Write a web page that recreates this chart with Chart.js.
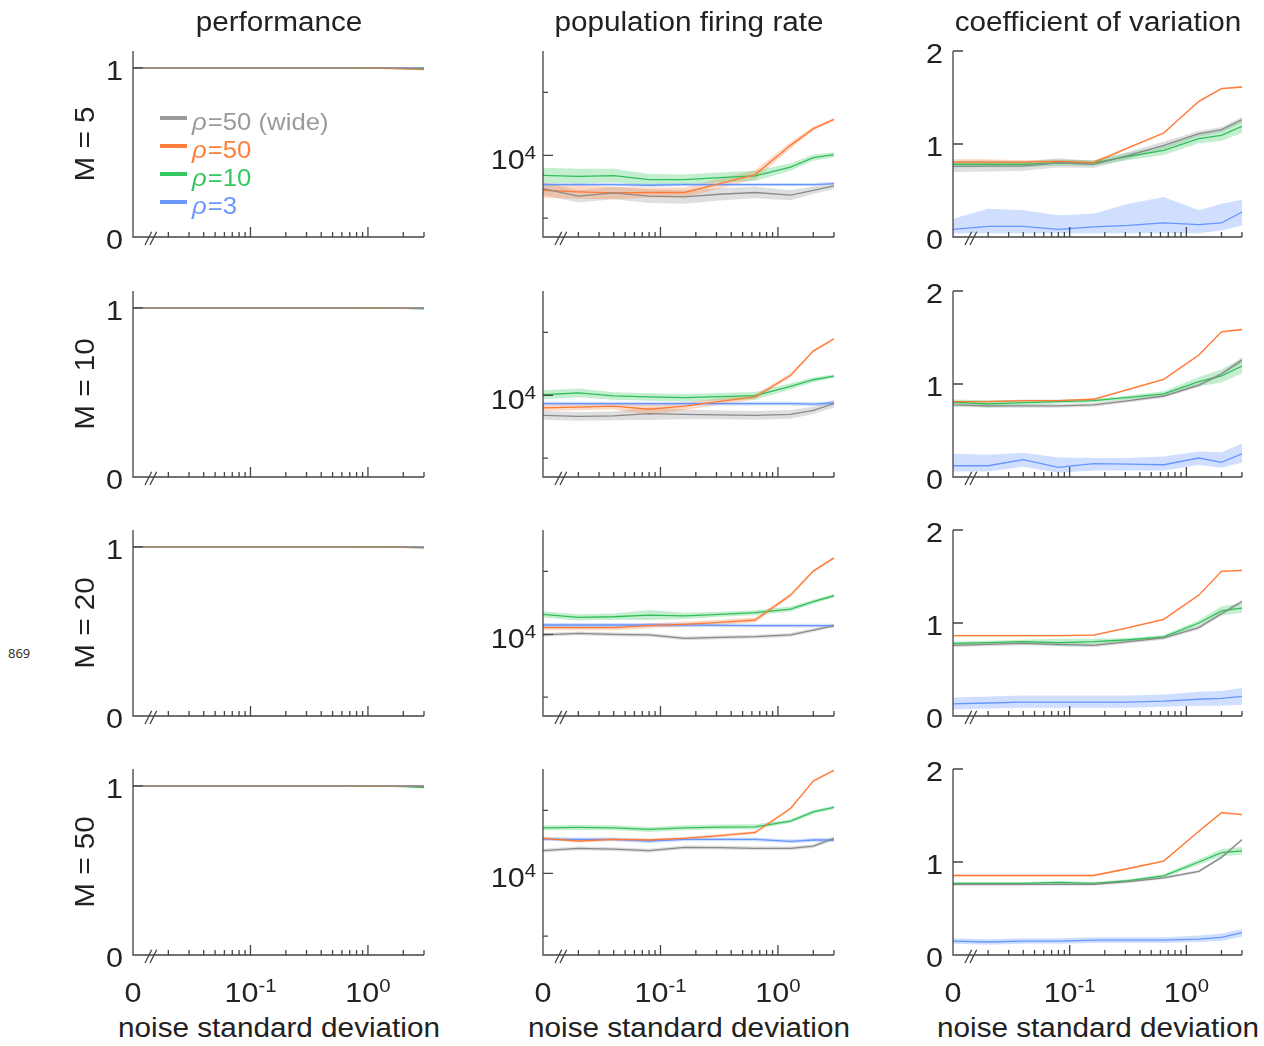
<!DOCTYPE html>
<html>
<head>
<meta charset="utf-8">
<script src="https://cdn.jsdelivr.net/npm/chart.js@4.4.1/dist/chart.umd.min.js"></script>
<style>
  body { margin: 0; background: #fff; width: 1264px; height: 1046px; position: relative; overflow: hidden;
         font-family: "Liberation Sans", Arial, Helvetica, sans-serif; color: #222; }
  canvas { position: absolute; }
  .txt { position: absolute; white-space: nowrap; font-size: 27px; line-height: 27px; }
  .note { position: absolute; font-family: "Noto Sans", "Open Sans", sans-serif; font-size: 13px; color: #333; }
</style>
</head>
<body>
<div class="note" style="left:8px; top:644px;">869</div>
<script>
// noise levels (0 is drawn at the left end of the broken log axis)
const noise = [0, 0.02, 0.04, 0.08, 0.16, 0.32, 0.64, 1.28, 2, 3];
const xZero = 0.01;
const xMax = 3;
const xTicks = [0.02, 0.03, 0.04, 0.05, 0.06, 0.07, 0.08, 0.09, 0.1, 0.2, 0.3, 0.4, 0.5, 0.6, 0.7, 0.8, 0.9, 1, 2, 3];
const xMajor = [0.1, 1];
const xLabelValues = [xZero, 0.1, 1];
const xLabels = ['0', '10^-1', '10^0'];

const mValues = [5, 10, 20, 50];
const colTitles = ['performance', 'population firing rate', 'coefficient of variation'];
const xTitle = 'noise standard deviation';
const seriesKeys = ['wide', 'r50', 'r10', 'r3'];
const legendLabels = ['ρ=50 (wide)', 'ρ=50', 'ρ=10', 'ρ=3'];

// performance, rows M = 5, 10, 20, 50
const perfWide = [
  [1, 1, 1, 1, 1, 1, 1, 1, 0.999, 0.998],
  [1, 1, 1, 1, 1, 1, 1, 1, 0.999, 0.998],
  [1, 1, 1, 1, 1, 1, 1, 1, 0.999, 0.997],
  [1, 1, 1, 1, 1, 1, 1, 1, 0.999, 0.998]
];
const perf50 = [
  [1, 1, 1, 1, 1, 1, 1, 0.998, 0.995, 0.993],
  [1, 1, 1, 1, 1, 1, 1, 0.999, 0.998, 0.997],
  [1, 1, 1, 1, 1, 1, 1, 0.999, 0.998, 0.996],
  [1, 1, 1, 1, 1, 1, 1, 0.999, 0.999, 0.999]
];
const perf10 = [
  [1, 1, 1, 1, 1, 1, 1, 0.999, 0.996, 0.99],
  [1, 1, 1, 1, 1, 1, 1, 0.999, 0.997, 0.994],
  [1, 1, 1, 1, 1, 1, 1, 0.999, 0.998, 0.995],
  [1, 1, 1, 1, 1, 1, 1, 0.999, 0.996, 0.99]
];
const perf3 = [
  [1, 1, 1, 1, 1, 1, 1, 1, 1, 1],
  [1, 1, 1, 1, 1, 1, 1, 1, 1, 1],
  [1, 1, 1, 1, 1, 1, 1, 1, 1, 1],
  [1, 1, 1, 1, 1, 1, 1, 1, 1, 1]
];

// population firing rate
const rateWide = [
  [5430, 4730, 5020, 4730, 4670, 4900, 5060, 4820, 5270, 5710],
  [6930, 6810, 6860, 7140, 7060, 6980, 6930, 7060, 7600, 8590],
  [9890, 10190, 10000, 9890, 9290, 9460, 9570, 9890, 10810, 11720],
  [15140, 15780, 15600, 15140, 16070, 16000, 15780, 15780, 16480, 18970]
];
const rate50 = [
  [5270, 5120, 5020, 5060, 5060, 5960, 7030, 12000, 16300, 19300],
  [7930, 8040, 8190, 7750, 8190, 8950, 9710, 14420, 22490, 28180],
  [11300, 11300, 11300, 11720, 12000, 12450, 13000, 20510, 31840, 40550],
  [18970, 18070, 18620, 18410, 18970, 19910, 21130, 32810, 54330, 66070]
];
const rate10 = [
  [6930, 6810, 6900, 6410, 6410, 6650, 6860, 8070, 9570, 10120],
  [10100, 10450, 9890, 9710, 9570, 9750, 9930, 11780, 13300, 14220],
  [14420, 13650, 13800, 14220, 14000, 14420, 14860, 15890, 18160, 20280],
  [23010, 23170, 23010, 22340, 23010, 23330, 23440, 26000, 30830, 33420]
];
const rate3 = [
  [5850, 5850, 5850, 5780, 5850, 5850, 5850, 5850, 5850, 5960],
  [8590, 8590, 8590, 8590, 8590, 8590, 8590, 8590, 8520, 8690],
  [11860, 11860, 11860, 11860, 11860, 11780, 11720, 11720, 11720, 11720],
  [18710, 18620, 18620, 18070, 18620, 18620, 18620, 17950, 18410, 18410]
];
// shaded spread of the firing rate, in decades (log10 units)
const rateWideSpread = [
  [0.05, 0.05, 0.05, 0.055, 0.055, 0.05, 0.045, 0.04, 0.03, 0.025],
  [0.035, 0.035, 0.035, 0.05, 0.04, 0.035, 0.035, 0.035, 0.03, 0.03],
  [0.015, 0.015, 0.015, 0.015, 0.015, 0.015, 0.015, 0.015, 0.015, 0.015],
  [0.015, 0.015, 0.015, 0.015, 0.015, 0.015, 0.015, 0.015, 0.015, 0.015]
];
const rate50Spread = [
  [0.06, 0.055, 0.05, 0.04, 0.04, 0.04, 0.035, 0.025, 0.015, 0.01],
  [0.025, 0.025, 0.025, 0.045, 0.03, 0.025, 0.02, 0.015, 0.01, 0.01],
  [0.02, 0.02, 0.02, 0.02, 0.02, 0.02, 0.02, 0.015, 0.01, 0.01],
  [0.012, 0.012, 0.012, 0.012, 0.012, 0.012, 0.012, 0.01, 0.01, 0.01]
];
const rate10Spread = [
  [0.06, 0.06, 0.055, 0.045, 0.04, 0.04, 0.04, 0.03, 0.025, 0.02],
  [0.035, 0.035, 0.03, 0.03, 0.03, 0.03, 0.03, 0.025, 0.02, 0.015],
  [0.025, 0.025, 0.025, 0.04, 0.025, 0.02, 0.02, 0.02, 0.015, 0.015],
  [0.02, 0.02, 0.02, 0.02, 0.02, 0.02, 0.02, 0.015, 0.015, 0.015]
];
const rate3Spread = [
  [0.012, 0.012, 0.012, 0.012, 0.012, 0.012, 0.012, 0.012, 0.012, 0.012],
  [0.015, 0.015, 0.015, 0.015, 0.015, 0.015, 0.015, 0.015, 0.015, 0.015],
  [0.015, 0.015, 0.015, 0.015, 0.015, 0.015, 0.015, 0.015, 0.015, 0.015],
  [0.015, 0.015, 0.015, 0.015, 0.015, 0.015, 0.015, 0.015, 0.015, 0.015]
];

// coefficient of variation
const cvWide = [
  [0.76, 0.763, 0.763, 0.796, 0.781, 0.878, 0.986, 1.111, 1.154, 1.262],
  [0.775, 0.764, 0.764, 0.764, 0.775, 0.821, 0.871, 0.989, 1.107, 1.257],
  [0.76, 0.77, 0.78, 0.77, 0.76, 0.8, 0.84, 0.95, 1.1, 1.23],
  [0.76, 0.76, 0.76, 0.76, 0.76, 0.79, 0.83, 0.9, 1.05, 1.24]
];
const cv50 = [
  [0.806, 0.806, 0.806, 0.814, 0.799, 0.96, 1.118, 1.459, 1.595, 1.613],
  [0.811, 0.811, 0.821, 0.821, 0.836, 0.943, 1.05, 1.311, 1.561, 1.586],
  [0.865, 0.865, 0.865, 0.865, 0.87, 0.95, 1.04, 1.3, 1.555, 1.565],
  [0.855, 0.855, 0.855, 0.855, 0.855, 0.93, 1.01, 1.33, 1.53, 1.51]
];
const cv10 = [
  [0.781, 0.781, 0.781, 0.796, 0.796, 0.867, 0.932, 1.057, 1.093, 1.19],
  [0.804, 0.786, 0.8, 0.811, 0.821, 0.857, 0.893, 1.025, 1.086, 1.193],
  [0.78, 0.79, 0.8, 0.79, 0.8, 0.82, 0.85, 1.0, 1.13, 1.16],
  [0.77, 0.77, 0.77, 0.78, 0.77, 0.8, 0.85, 1.0, 1.1, 1.12]
];
const cv3 = [
  [0.082, 0.115, 0.115, 0.082, 0.108, 0.125, 0.151, 0.133, 0.151, 0.269],
  [0.121, 0.121, 0.186, 0.104, 0.143, 0.139, 0.132, 0.204, 0.157, 0.25],
  [0.13, 0.14, 0.15, 0.15, 0.15, 0.15, 0.16, 0.18, 0.19, 0.21],
  [0.15, 0.14, 0.15, 0.15, 0.16, 0.16, 0.16, 0.17, 0.19, 0.24]
];
const cvWideErr = [
  [0.06, 0.06, 0.05, 0.05, 0.04, 0.04, 0.04, 0.03, 0.03, 0.03],
  [0.02, 0.02, 0.02, 0.02, 0.02, 0.02, 0.02, 0.02, 0.02, 0.03],
  [0.02, 0.02, 0.02, 0.02, 0.02, 0.02, 0.02, 0.02, 0.02, 0.02],
  [0.015, 0.015, 0.015, 0.015, 0.015, 0.015, 0.015, 0.015, 0.015, 0.015]
];
const cv50Err = [
  [0.03, 0.03, 0.02, 0.02, 0.02, 0.01, 0.01, 0.01, 0.01, 0.01],
  [0.01, 0.01, 0.01, 0.01, 0.01, 0.01, 0.01, 0.01, 0.01, 0.01],
  [0.01, 0.01, 0.01, 0.01, 0.01, 0.01, 0.01, 0.01, 0.01, 0.01],
  [0.01, 0.01, 0.01, 0.01, 0.01, 0.01, 0.01, 0.01, 0.01, 0.01]
];
const cv10Err = [
  [0.03, 0.03, 0.03, 0.03, 0.03, 0.04, 0.05, 0.05, 0.06, 0.07],
  [0.03, 0.04, 0.03, 0.02, 0.02, 0.02, 0.03, 0.05, 0.07, 0.08],
  [0.02, 0.02, 0.02, 0.04, 0.03, 0.02, 0.02, 0.03, 0.05, 0.05],
  [0.015, 0.015, 0.015, 0.015, 0.015, 0.015, 0.02, 0.03, 0.04, 0.04]
];
// rho=3 band is skewed (CV stays above 0), so its edges are kept as they are
const cv3Lo = [
  [0.04, 0.04, 0.04, 0.04, 0.04, 0.04, 0.04, 0.04, 0.07, 0.125],
  [0.06, 0.06, 0.11, 0.045, 0.07, 0.07, 0.07, 0.13, 0.1, 0.157],
  [0.07, 0.08, 0.09, 0.09, 0.09, 0.09, 0.1, 0.11, 0.11, 0.12],
  [0.12, 0.11, 0.12, 0.12, 0.13, 0.13, 0.13, 0.14, 0.15, 0.2]
];
const cv3Hi = [
  [0.197, 0.305, 0.287, 0.233, 0.251, 0.358, 0.43, 0.287, 0.358, 0.401],
  [0.25, 0.24, 0.26, 0.21, 0.205, 0.205, 0.22, 0.275, 0.265, 0.357],
  [0.2, 0.21, 0.22, 0.22, 0.22, 0.22, 0.23, 0.26, 0.27, 0.3],
  [0.18, 0.17, 0.18, 0.18, 0.19, 0.19, 0.19, 0.21, 0.23, 0.28]
];

const perfTicks = [0, 1], perfTickLabels = ['0', '1'];
const rateTicks = [Math.pow(10, 3.5), 1e4, Math.pow(10, 4.5)], rateTickLabels = ['', '10^4', ''];
const cvTicks = [0, 1, 2], cvTickLabels = ['0', '1', '2'];

const lineColors = { wide: '#8a8a8a', r50: '#ff7a36', r10: '#2fbf58', r3: '#6795ff' };
const bandColors = { wide: 'rgba(150,150,150,0.3)', r50: 'rgba(255,130,60,0.3)', r10: 'rgba(60,200,100,0.3)', r3: 'rgba(100,150,255,0.3)' };
const legendColors = { wide: '#9a9a9a', r50: '#ff7f3a', r10: '#33c862', r3: '#6a98ff' };
const axisColor = '#444';
const textColor = '#222';
const FONT = '"Liberation Sans", Arial, Helvetica, sans-serif';
const SX = 1.1;   // the lettering in the figure is drawn a little wide

const colLeft = [133, 543, 953];
const colWidth = [291, 291, 289];
const rowTop = [51, 291, 530, 769];
const plotH = 186;
const PAD = { l: 70, t: 22, r: 22, b: 58 };

function pts(arr) {
  return arr.map((v, i) => ({ x: noise[i] === 0 ? xZero : noise[i], y: v }));
}

function wideText(ctx, text, x, y, sx) {
  ctx.save();
  ctx.translate(x, y);
  ctx.scale(sx, 1);
  ctx.fillText(text, 0, 0);
  ctx.restore();
}

function drawLabel(ctx, text, x, y, align) {
  const sx = 1.13;
  const parts = text.split('^');
  ctx.font = '27px ' + FONT;
  const wb = ctx.measureText(parts[0]).width * sx;
  let we = 0;
  if (parts.length > 1) { ctx.font = '18px ' + FONT; we = ctx.measureText(parts[1]).width * sx; }
  const total = wb + we;
  const x0 = align === 'right' ? x - total : x - total / 2;
  ctx.textAlign = 'left';
  ctx.textBaseline = 'alphabetic';
  ctx.font = '27px ' + FONT;
  wideText(ctx, parts[0], x0, y, sx);
  if (parts.length > 1) { ctx.font = '18px ' + FONT; wideText(ctx, parts[1], x0 + wb, y - 10, sx); }
}

const axesPlugin = {
  id: 'axes',
  afterDatasetsDraw(chart, args, opts) {
    const { ctx, chartArea: a } = chart;
    const xs = chart.scales.x, ys = chart.scales.y;
    ctx.save();
    ctx.strokeStyle = axisColor;
    ctx.lineWidth = 1.3;
    ctx.beginPath();
    ctx.moveTo(a.left, a.top);
    ctx.lineTo(a.left, a.bottom);
    ctx.lineTo(a.right, a.bottom);
    xTicks.forEach(v => {
      const px = xs.getPixelForValue(v);
      ctx.moveTo(px, a.bottom);
      ctx.lineTo(px, a.bottom - (xMajor.includes(v) ? 10 : 5));
    });
    opts.yTicks.forEach((v, i) => {
      const py = ys.getPixelForValue(v);
      ctx.moveTo(a.left, py);
      ctx.lineTo(a.left + (opts.yLabels[i] ? 10 : 5), py);
    });
    ctx.stroke();
    // axis break marks
    ctx.beginPath();
    [12, 17].forEach(d => {
      ctx.moveTo(a.left + d, a.bottom + 8);
      ctx.lineTo(a.left + d + 6.7, a.bottom - 5.3);
    });
    ctx.stroke();

    ctx.fillStyle = textColor;
    opts.yTicks.forEach((v, i) => {
      const lab = opts.yLabels[i];
      if (!lab) return;
      const py = ys.getPixelForValue(v);
      if (lab.includes('^')) drawLabel(ctx, lab, a.left - 7, py + 14, 'right');
      else drawLabel(ctx, lab, a.left - 10, py + 12, 'right');
    });
    if (opts.xLabels) {
      xLabelValues.forEach((v, i) => drawLabel(ctx, xLabels[i], xs.getPixelForValue(v), a.bottom + 47, 'center'));
    }
    if (opts.legend) {
      const lsx = 1.05;
      seriesKeys.forEach((k, i) => {
        const y = a.top + 67 + i * 28;
        ctx.strokeStyle = legendColors[k];
        ctx.lineWidth = 4;
        ctx.beginPath();
        ctx.moveTo(a.left + 27, y);
        ctx.lineTo(a.left + 54, y);
        ctx.stroke();
        ctx.fillStyle = legendColors[k];
        ctx.textAlign = 'left';
        ctx.textBaseline = 'alphabetic';
        const lab = legendLabels[i];
        ctx.font = 'italic 24.5px ' + FONT;
        wideText(ctx, lab[0], a.left + 59, y + 11.5, lsx);
        const w = ctx.measureText(lab[0]).width * lsx;
        ctx.font = '24.5px ' + FONT;
        wideText(ctx, lab.slice(1), a.left + 59 + w + 1, y + 11.5, lsx);
      });
    }
    ctx.restore();
  }
};

const columns = [
  {
    yScale: { type: 'linear', min: 0, max: 1.1 },
    ticks: perfTicks, labels: perfTickLabels,
    data: { wide: perfWide, r50: perf50, r10: perf10, r3: perf3 },
    band: null
  },
  {
    yScale: { type: 'logarithmic', min: Math.pow(10, 3.35), max: Math.pow(10, 4.83) },
    ticks: rateTicks, labels: rateTickLabels,
    data: { wide: rateWide, r50: rate50, r10: rate10, r3: rate3 },
    band: (row, k, mean) => {
      const sp = { wide: rateWideSpread, r50: rate50Spread, r10: rate10Spread, r3: rate3Spread }[k][row];
      return [mean.map((v, i) => v / Math.pow(10, sp[i])), mean.map((v, i) => v * Math.pow(10, sp[i]))];
    }
  },
  {
    yScale: { type: 'linear', min: 0, max: 2 },
    ticks: cvTicks, labels: cvTickLabels,
    data: { wide: cvWide, r50: cv50, r10: cv10, r3: cv3 },
    band: (row, k, mean) => {
      if (k === 'r3') return [cv3Lo[row], cv3Hi[row]];
      const e = { wide: cvWideErr, r50: cv50Err, r10: cv10Err }[k][row];
      return [mean.map((v, i) => v - e[i]), mean.map((v, i) => v + e[i])];
    }
  }
];

function makePanel(c, r) {
  const col = columns[c];
  const w = colWidth[c];
  const canvas = document.createElement('canvas');
  canvas.width = PAD.l + w + PAD.r;
  canvas.height = PAD.t + plotH + PAD.b;
  canvas.style.left = (colLeft[c] - PAD.l) + 'px';
  canvas.style.top = (rowTop[r] - PAD.t) + 'px';
  document.body.appendChild(canvas);

  const datasets = [];
  seriesKeys.forEach((k, idx) => {
    const mean = col.data[k][r];
    if (col.band) {
      const [lo, hi] = col.band(r, k, mean);
      datasets.push({ data: pts(hi), fill: '+1', backgroundColor: bandColors[k], borderColor: 'rgba(0,0,0,0)',
                      borderWidth: 0, pointRadius: 0, order: 20 - idx });
      datasets.push({ data: pts(lo), fill: false, borderColor: 'rgba(0,0,0,0)',
                      borderWidth: 0, pointRadius: 0, order: 20 - idx });
    }
  });
  seriesKeys.forEach((k, idx) => {
    datasets.push({ data: pts(col.data[k][r]), fill: false, borderColor: lineColors[k],
                    borderWidth: 1.3, pointRadius: 0, order: idx + 1 });
  });

  new Chart(canvas, {
    type: 'line',
    data: { datasets },
    options: {
      responsive: false,
      animation: false,
      devicePixelRatio: 1,
      events: [],
      layout: { padding: { left: PAD.l, top: PAD.t, right: PAD.r, bottom: PAD.b } },
      elements: { line: { tension: 0 }, point: { radius: 0 } },
      scales: {
        x: { type: 'logarithmic', min: xZero, max: xMax, display: false },
        y: Object.assign({ display: false }, col.yScale)
      },
      plugins: {
        legend: { display: false },
        tooltip: { enabled: false },
        axes: { yTicks: col.ticks, yLabels: col.labels, xLabels: r === mValues.length - 1, legend: c === 0 && r === 0 }
      }
    },
    plugins: [axesPlugin]
  });
}

for (let r = 0; r < mValues.length; r++) {
  for (let c = 0; c < 3; c++) makePanel(c, r);
}

// text around the grid (27px Liberation Sans, baseline sits 22.9px below the box top)
function addText(text, cx, baseline) {
  const d = document.createElement('div');
  d.className = 'txt';
  d.textContent = text;
  d.style.left = cx + 'px';
  d.style.top = (baseline - 22.9) + 'px';
  d.style.transform = 'translateX(-50%) scaleX(' + SX + ')';
  document.body.appendChild(d);
  return d;
}
colTitles.forEach((t, c) => addText(t, colLeft[c] + colWidth[c] / 2, 31.5));
colTitles.forEach((t, c) => addText(xTitle, colLeft[c] + colWidth[c] / 2, 1038));
mValues.forEach((m, r) => {
  const d = document.createElement('div');
  d.className = 'txt';
  d.textContent = 'M = ' + m;
  d.style.left = '84.5px';
  d.style.top = (rowTop[r] + plotH / 2) + 'px';
  d.style.transform = 'translate(-50%, -50%) rotate(-90deg) scaleX(' + SX + ')';
  document.body.appendChild(d);
});
</script>
</body>
</html>
